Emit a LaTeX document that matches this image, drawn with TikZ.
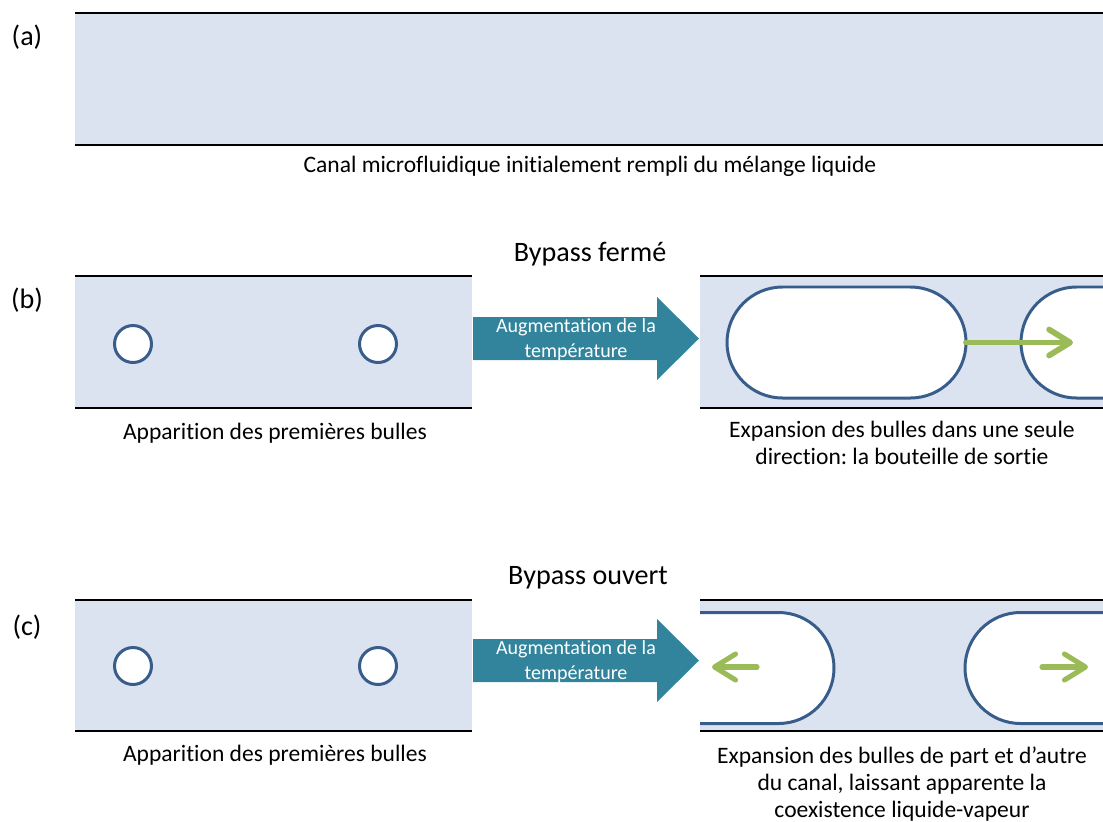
\documentclass[tikz,border=0pt]{standalone}
\usepackage{fontspec}
\setmainfont{Carlito}[Ligatures=NoCommon]
\usetikzlibrary{arrows.meta}
\definecolor{fondcanal}{RGB}{220,227,240}
\definecolor{bleubulle}{RGB}{56,93,138}
\definecolor{bleufleche}{RGB}{49,132,155}
\definecolor{vertfleche}{RGB}{155,187,89}
\frenchspacing

\begin{document}
\begin{tikzpicture}[x=0.02cm, y=0.02cm,
  canal/.style={fill=fondcanal},
  paroi/.style={draw=black, line width=1.4pt},
  bulle/.style={draw=bleubulle, line width=1.7pt, fill=white},
  poussee/.style={fill=bleufleche},
  expansion/.style={-{Straight Barb[length=0.42cm,width=0.52cm,round]}, draw=vertfleche, line width=3.3pt, line cap=round},
  legende/.style={font=\fontsize{13.4}{15.4}\selectfont, align=center},
  titre/.style={font=\fontsize{16}{18}\selectfont},
  lettre/.style={font=\fontsize{16}{18}\selectfont},
  chaleur/.style={font=\fontsize{11.4}{14.2}\selectfont, text=white, align=center},
]
\useasboundingbox (0,0) rectangle (1103,-822);

% (a) Canal initial
\node[lettre] (la) at (27,-37) {(a)};
\fill[canal] (75,-13) rectangle (1103,-145);
\draw[paroi] (75,-13) -- (1103,-13) (75,-145) -- (1103,-145);
\node[legende] (lega) at (590,-166) {Canal microfluidique initialement rempli du mélange liquide};

% (b) Bypass ferme
\node[lettre] (lb) at (27,-300) {(b)};
\node[titre] (titreb) at (590,-254) {Bypass fermé};
\fill[canal] (75,-276) rectangle (472,-408);
\draw[paroi] (75,-276) -- (472,-276) (75,-408) -- (472,-408);
\draw[bulle] (133,-344) circle (18.5);
\draw[bulle] (378,-344) circle (18.5);
\node[legende] (legb1) at (275,-433) {Apparition des premières bulles};

\fill[poussee] (473,-317) -- (657,-317) -- (657,-297) -- (699,-338.5) -- (657,-380) -- (657,-360) -- (473,-360) -- cycle;
\node[chaleur] (chaudb) at (576,-340) {Augmentation de la\\température};

\fill[canal] (700,-276) rectangle (1103,-408);
\draw[paroi] (700,-276) -- (1103,-276) (700,-408) -- (1103,-408);
\draw[bulle] (782.5,-287) -- (910.5,-287) arc[start angle=90, end angle=-90, radius=55.5]
  -- (782.5,-398) arc[start angle=270, end angle=90, radius=55.5] -- cycle;
\draw[bulle] (1103,-287) -- (1076.5,-287) arc[start angle=90, end angle=270, radius=55.5] -- (1103,-398);
\coordinate (db) at (966,-342.5);
\coordinate (fb) at (1073,-342.5);
\draw[expansion] (db) -- (fb);
\node[legende] (legb2) at (902,-443) {Expansion des bulles dans une seule\\direction: la bouteille de sortie};

% (c) Bypass ouvert
\node[lettre] (lc) at (27,-627) {(c)};
\node[titre] (titrec) at (588,-578) {Bypass ouvert};
\fill[canal] (75,-600) rectangle (472,-731);
\draw[paroi] (75,-600) -- (472,-600) (75,-731) -- (472,-731);
\draw[bulle] (133,-666) circle (18.5);
\draw[bulle] (378,-666) circle (18.5);
\node[legende] (legc1) at (275,-755) {Apparition des premières bulles};

\fill[poussee] (473,-639) -- (657,-639) -- (657,-619) -- (699,-660.5) -- (657,-702) -- (657,-682) -- (473,-682) -- cycle;
\node[chaleur] (chaudc) at (576,-662) {Augmentation de la\\température};

\fill[canal] (700,-600) rectangle (1103,-731);
\draw[paroi] (700,-600) -- (1103,-600) (700,-731) -- (1103,-731);
\draw[bulle] (700,-612.5) -- (778.5,-612.5) arc[start angle=90, end angle=-90, radius=55.5] -- (700,-723.5);
\draw[bulle] (1103,-612.5) -- (1020.5,-612.5) arc[start angle=90, end angle=270, radius=55.5] -- (1103,-723.5);
\coordinate (dc1) at (757,-667);
\coordinate (fc1) at (712,-667);
\coordinate (dc2) at (1042,-667);
\coordinate (fc2) at (1088,-667);
\draw[expansion, line width=2.9pt] (dc1) -- (fc1);
\draw[expansion, line width=2.9pt] (dc2) -- (fc2);
\node[legende] (legc2) at (902,-784) {Expansion des bulles de part et d’autre\\du canal, laissant apparente la\\coexistence liquide-vapeur};
\end{tikzpicture}
\end{document}
